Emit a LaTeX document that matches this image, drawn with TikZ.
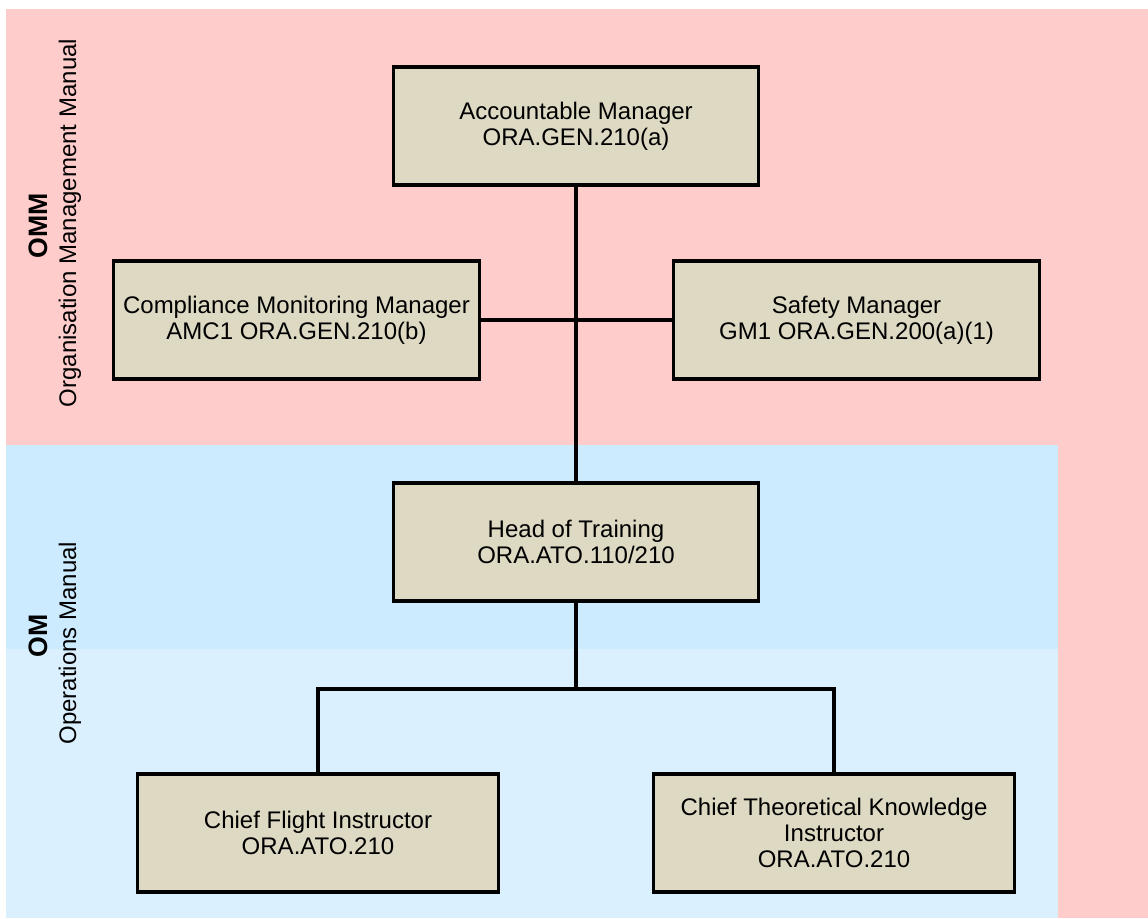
\documentclass[tikz,border=0pt]{standalone}
\usepackage{fontspec}
\setmainfont{Liberation Sans}
\usetikzlibrary{shadows}
\definecolor{pinkbg}{HTML}{FFCCCC}
\definecolor{bluetop}{HTML}{CCEBFF}
\definecolor{bluebot}{HTML}{DBF0FF}
\definecolor{boxfill}{HTML}{DDD9C3}
\tikzset{
  orgbox/.style={draw=black, line width=2.4pt, fill=boxfill, align=center,
    minimum height=88.5pt, inner sep=2pt,
    font=\fontsize{18}{19.5}\selectfont,
    drop shadow={shadow xshift=1pt, shadow yshift=-1pt, fill=black!40, opacity=1}},
  conn/.style={draw=black, line width=2.4pt},
  sidelab/.style={rotate=90, font=\fontsize{18}{20}\selectfont, inner sep=0pt},
  sidebold/.style={rotate=90, font=\fontsize{20}{22}\selectfont\bfseries, inner sep=0pt}
}
\begin{document}
\begin{tikzpicture}[x=0.75pt, y=-0.75pt]
\useasboundingbox (0,0) rectangle (1148,918);
% backgrounds
\fill[pinkbg] (6,9) rectangle (1148,918);
\fill[bluetop] (6,445) rectangle (1058,649);
\fill[bluebot] (6,649) rectangle (1058,918);
% side labels
\node[sidelab] (ommtxt) at (70,223) {Organisation Management Manual};
\node[sidebold] (omm) at (38,226) {OMM};
\node[sidelab] (omtxt) at (70,643) {Operations Manual};
\node[sidebold] (om) at (38,636) {OM};
% boxes
\node[orgbox, minimum width=274pt] (am) at (576,126) {Accountable Manager\\ORA.GEN.210(a)};
\node[orgbox, minimum width=275pt] (cmm) at (296.5,320) {Compliance Monitoring Manager\\AMC1 ORA.GEN.210(b)};
\node[orgbox, minimum width=274pt] (sm) at (856.5,320) {Safety Manager\\GM1 ORA.GEN.200(a)(1)};
\node[orgbox, minimum width=274pt] (hot) at (576,542) {Head of Training\\ORA.ATO.110/210};
\node[orgbox, minimum width=271pt] (cfi) at (318,833) {Chief Flight Instructor\\ORA.ATO.210};
\node[orgbox, minimum width=271pt] (ctki) at (834,833) {Chief Theoretical Knowledge\\Instructor\\ORA.ATO.210};
% connectors
\coordinate (j) at (576,689);
\draw[conn] (am.south) -- (hot.north);
\draw[conn] (cmm.east) -- (sm.west);
\draw[conn] (hot.south) -- (j);
\draw[conn] (cfi.north) |- (j) -| (ctki.north);
\end{tikzpicture}
\end{document}
